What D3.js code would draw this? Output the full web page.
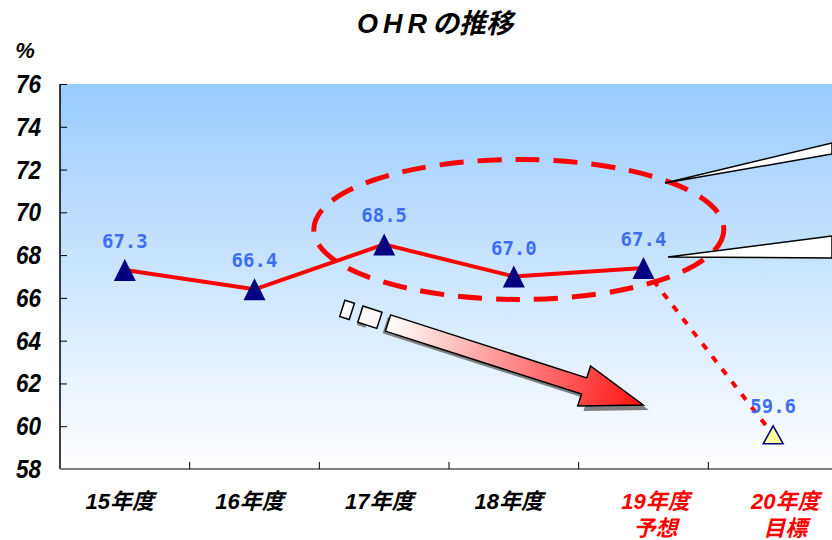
<!DOCTYPE html>
<html><head><meta charset="utf-8">
<script src="https://cdn.jsdelivr.net/npm/d3@7"></script>
<style>
html,body{margin:0;padding:0;background:#fff;}
svg{display:block;}
</style></head>
<body>
<svg id="chart" width="832" height="540"></svg>
<script>
// OHR by fiscal year (%)
const categories = ["15年度","16年度","17年度","18年度","19年度","20年度"];
const subLabels = ["","","","","予想","目標"];
const ohrValues = [67.3, 66.4, 68.5, 67.0, 67.4, 59.6];
const yTicks = [58,60,62,64,66,68,70,72,74,76];

const svg = d3.select("#chart");
const W = 832, H = 540;
const m = {left:60, top:84, bottom:469, right:838};
const gothic = "'Liberation Sans','Noto Sans CJK JP',sans-serif";

const x = d3.scaleBand().domain(categories).range([m.left, m.right]);
const y = d3.scaleLinear().domain([58,76]).range([m.bottom, m.top]);
const cx = c => x(c) + x.bandwidth()/2;

const defs = svg.append("defs");
const bg = defs.append("linearGradient").attr("id","bg").attr("x1",0).attr("y1",0).attr("x2",0).attr("y2",1);
bg.append("stop").attr("offset","0%").attr("stop-color","#99ccff");
bg.append("stop").attr("offset","100%").attr("stop-color","#ffffff");
const ag = defs.append("linearGradient").attr("id","arrowGrad").attr("x1",0).attr("y1",0).attr("x2",1).attr("y2",0);
ag.append("stop").attr("offset","0%").attr("stop-color","#ffffff");
ag.append("stop").attr("offset","100%").attr("stop-color","#ff1010");

// plot background
svg.append("rect").attr("x",m.left).attr("y",m.top)
  .attr("width",W-m.left).attr("height",m.bottom-m.top).attr("fill","url(#bg)");

// title
const title = svg.append("text").attr("x",357).attr("y",33)
  .style("font-family",gothic).style("font-size","27px").style("font-weight","bold").style("font-style","italic");
title.append("tspan").attr("letter-spacing","5").text("OHR");
title.append("tspan").text("の推移");
svg.append("text").attr("x",25).attr("y",58).attr("text-anchor","middle")
  .style("font-family",gothic).style("font-size","22px").style("font-weight","bold").style("font-style","italic")
  .text("%");

// y axis
const yAxis = svg.append("g").attr("transform",`translate(${m.left},0)`)
  .call(d3.axisRight(y).tickValues(yTicks).tickSize(7).tickFormat(""));
yAxis.select(".domain").attr("stroke","#000").attr("stroke-width",1.5).attr("d",`M0,${m.top}V${m.bottom}`);
yAxis.selectAll(".tick line").attr("stroke","#000");
svg.append("g").selectAll("text").data(yTicks).join("text")
  .attr("transform",d=>`translate(41,${y(d)+9}) scale(0.9,1)`).attr("text-anchor","end")
  .style("font-family",gothic).style("font-size","25px").style("font-weight","bold").style("font-style","italic")
  .text(d=>d);

// x axis
const xAxis = svg.append("g").attr("transform",`translate(0,${m.bottom})`)
  .call(d3.axisTop(x).tickSize(0).tickFormat(""));
xAxis.select(".domain").attr("stroke","#808080").attr("stroke-width",2).attr("d",`M${m.left},0H${W}`);
svg.append("g").selectAll("line").data(categories.slice(1)).join("line")
  .attr("x1",d=>x(d)).attr("x2",d=>x(d)).attr("y1",m.bottom).attr("y2",m.bottom-7)
  .attr("stroke","#000");
const lx = (d,i) => cx(d) + (i>=4 ? 12 : -5);
const xl = svg.append("g").selectAll("text").data(categories).join("text")
  .attr("x",lx).attr("y",509).attr("text-anchor","middle")
  .style("font-family",gothic).style("font-size","22px").style("font-weight","bold").style("font-style","italic")
  .attr("fill",(d,i)=>i>=4?"#ff0000":"#000");
xl.append("tspan").text(d=>d);
xl.append("tspan").attr("x",lx).attr("dy",27).text((d,i)=>subLabels[i]);

// highlight ellipse
svg.append("ellipse")
  .attr("cx",(cx(categories[2])+cx(categories[4]))/2+5).attr("cy",y(69.2))
  .attr("rx",205).attr("ry",70)
  .attr("fill","none").attr("stroke","#ff0000").attr("stroke-width",5)
  .attr("stroke-dasharray","24,14");

// callout wedges to the right
const wedges = [
  [[665,183],[W,143],[W,154]],
  [[668,257],[W,236],[W,258]]
];
svg.append("g").selectAll("path").data(wedges).join("path")
  .attr("d",d=>"M"+d.map(p=>p.join(",")).join("L")+"Z")
  .attr("fill","#fff").attr("stroke","#000").attr("stroke-width",1.5).attr("stroke-linejoin","miter");

// trend arrow (shadow + gradient body + broken tail blocks)
const arrow = svg.append("g").attr("transform","translate(388,323) rotate(17.8)");
const body = "M0,-8.5L206,-8.5L206,-21L268,0L206,21L206,8.5L0,8.5Z";
const shadow = arrow.append("g").attr("transform","translate(7,3)").attr("fill","#808080");
shadow.append("path").attr("d",body);
shadow.append("rect").attr("x",-36).attr("y",-8.5).attr("width",9).attr("height",17);
shadow.append("rect").attr("x",-9).attr("y",-8.5).attr("width",9).attr("height",17);
arrow.append("rect").attr("x",-48).attr("y",-8.5).attr("width",10).attr("height",17)
  .attr("fill","#fff").attr("stroke","#000").attr("stroke-width",1.5);
arrow.append("rect").attr("x",-29).attr("y",-8.5).attr("width",20).attr("height",17)
  .attr("fill","#fff8f8").attr("stroke","#000").attr("stroke-width",1.5);
arrow.append("path").attr("d",body).attr("fill","url(#arrowGrad)")
  .attr("stroke","#000").attr("stroke-width",1.5).attr("stroke-linejoin","miter");

// OHR line: actual (solid) and target (dashed)
const pts = categories.map((c,i)=>[cx(c), y(ohrValues[i])]);
const line = d3.line();
svg.append("path").attr("d",line(pts.slice(0,5))).attr("fill","none")
  .attr("stroke","#ff0000").attr("stroke-width",4).attr("stroke-linejoin","round");
svg.append("path").attr("d",line(pts.slice(4))).attr("fill","none")
  .attr("stroke","#ff0000").attr("stroke-width",4).attr("stroke-dasharray","7,9");

// triangle markers
const triPath = "M0,-11L11,11L-11,11Z";
svg.append("g").selectAll("path").data(pts).join("path")
  .attr("transform",d=>`translate(${d[0]},${d[1]})`)
  .attr("d",(d,i)=>i===5?"M0,-9L10,9L-10,9Z":triPath)
  .attr("fill",(d,i)=>i===5?"#ffff99":"#000080")
  .attr("stroke","#000080").attr("stroke-width",(d,i)=>i===5?1.5:0);

// value labels
svg.append("g").selectAll("text").data(ohrValues).join("text")
  .attr("x",(d,i)=>pts[i][0]).attr("y",(d,i)=>pts[i][1]-22)
  .attr("text-anchor","middle")
  .style("font-family","'DejaVu Sans Mono','Liberation Mono',monospace")
  .style("font-size","19px").style("font-weight","bold").attr("fill","#3d6ef5")
  .text(d=>d.toFixed(1));
</script>
</body></html>
